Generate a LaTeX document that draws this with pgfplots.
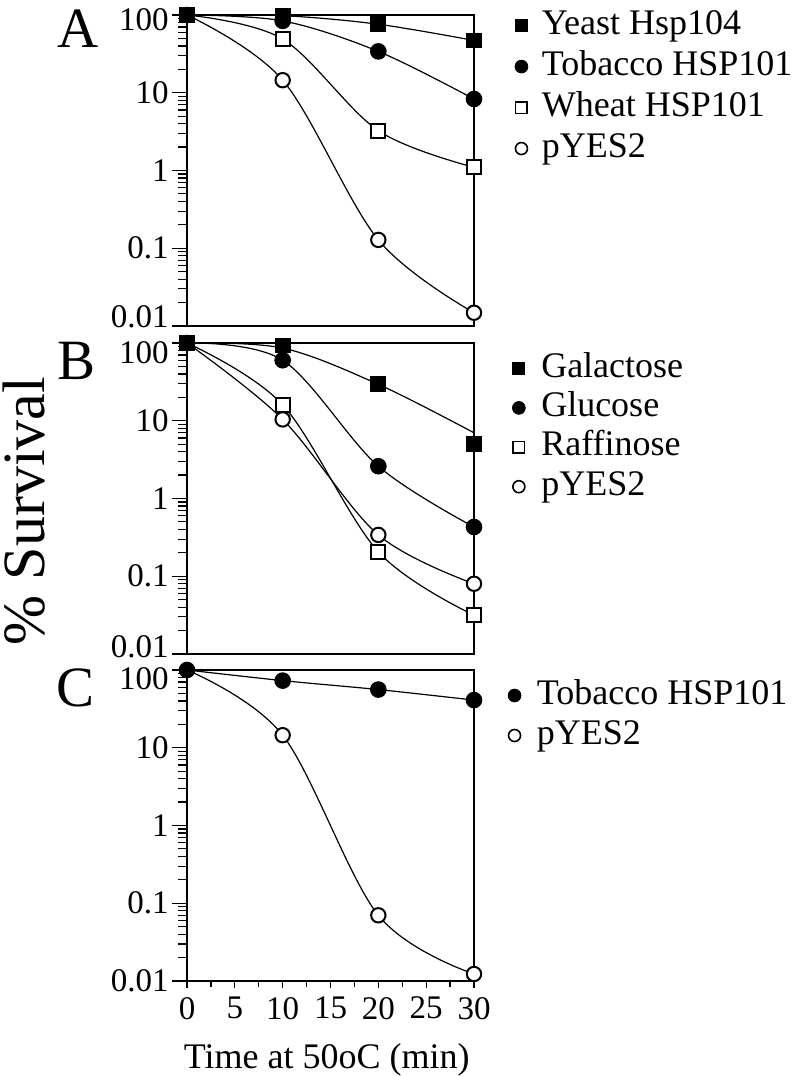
\documentclass[border=0pt]{standalone}
\usepackage{fontspec}
\setmainfont{Liberation Serif}
\usepackage{pgfplots}
\pgfplotsset{compat=1.18}
\tikzset{
  crv/.style={smooth, tension=0.55, line width=0.6pt, black},
  fsq/.style={only marks, mark=square*, mark size=3.7pt, mark options={fill=black, line width=0.5pt}},
  fci/.style={only marks, mark=*, mark size=3.9pt, mark options={fill=black, line width=0.5pt}},
  osq/.style={only marks, mark=square*, mark size=3.5pt, mark options={fill=white, draw=black, line width=1pt}},
  oci/.style={only marks, mark=*, mark size=3.6pt, mark options={fill=white, draw=black, line width=1pt}},
  lfsq/.style={only marks, mark=square*, mark size=3pt, mark options={fill=black, line width=0.4pt}},
  lfci/.style={only marks, mark=*, mark size=3.2pt, mark options={fill=black, line width=0.4pt}},
  losq/.style={only marks, mark=square*, mark size=2.9pt, mark options={fill=white, draw=black, line width=0.8pt}},
  loci/.style={only marks, mark=*, mark size=3pt, mark options={fill=white, draw=black, line width=0.8pt}},
}
\newcommand{\up}[2]{\raisebox{#1}[\height][\depth]{#2}}
\pgfplotsset{
  every axis/.append style={
    scale only axis, width=143.5pt, height=155.5pt,
    xmin=0, xmax=30,
    tick align=outside,
    axis line style={line width=0.8pt},
    every tick/.style={line width=0.6pt, black},
    ticklabel style={font=\fontsize{16.5}{18}\selectfont},
    /pgf/number format/assume math mode=true,
    clip=false,
    legend style={draw=none, fill=none, anchor=north west, inner sep=0pt, outer sep=0pt,
      font=\fontsize{18}{20}\selectfont, legend cell align=left,
      nodes={inner sep=0pt, text height=12.5pt, text depth=4pt}},
  },
}
\begin{document}
\begin{tikzpicture}
\path[use as bounding box] (0,0) rectangle (400pt,538pt);
% ---------------- Panel A
\begin{axis}[at={(93.5pt,375pt)}, anchor=south west, xtick=\empty,
  ymode=log, ymin=0.01, ymax=100,
  ytick={0.01,0.1,1,10,100}, yticklabels={\up{4.5pt}{0.01},0.1,1,10,\up{-2.5pt}{100}}, ytick pos=left,
  major tick length=7.5pt, minor tick length=4.5pt, yticklabel style={inner xsep=1.5pt},
  legend style={at={(axis description cs:1.143,1.019)}, row sep=4pt, column sep=7pt}]
\addplot[crv, forget plot] coordinates {(0,100) (10,98) (20,76) (30,47)};
\addplot[crv, forget plot] coordinates {(0,100) (10,84) (20,34) (30,8.3)};
\addplot[crv, forget plot] coordinates {(0,100) (10,49) (20,3.25) (30,1.1)};
\addplot[crv, forget plot] coordinates {(0,100) (10,14.5) (20,0.128) (30,0.0148)};
\addplot[fci, forget plot] coordinates {(0,100) (10,84) (20,34) (30,8.3)};
\addplot[fsq, forget plot] coordinates {(0,100) (10,98) (20,76) (30,47)};
\addplot[osq, forget plot] coordinates {(10,49) (20,3.25) (30,1.1)};
\addplot[oci, forget plot] coordinates {(10,14.5) (20,0.128) (30,0.0148)};
\addlegendimage{lfsq}\addlegendentry{Yeast Hsp104}
\addlegendimage{lfci}\addlegendentry{Tobacco HSP101}
\addlegendimage{losq}\addlegendentry{Wheat HSP101}
\addlegendimage{loci}\addlegendentry{pYES2}
\node[anchor=base west, inner sep=0pt, font=\fontsize{28.5}{30}\selectfont] at (rel axis cs:-0.452,0.894) {A};
\end{axis}
% ---------------- Panel B
\begin{axis}[at={(93.5pt,211pt)}, anchor=south west, xtick=\empty,
  ymode=log, ymin=0.01, ymax=100,
  ytick={0.01,0.1,1,10,100}, yticklabels={\up{3.5pt}{0.01},0.1,1,10,\up{-5pt}{100}}, ytick pos=left,
  major tick length=7.5pt, minor tick length=4.5pt, yticklabel style={inner xsep=1.5pt},
  legend style={at={(axis description cs:1.134,0.971)}, row sep=3.2pt, column sep=8pt}]
\addplot[crv, forget plot] coordinates {(0,100) (10,86) (20,29.4) (30,7)};
\addplot[crv, forget plot] coordinates {(0,100) (10,60) (20,2.6) (30,0.43)};
\addplot[crv, forget plot] coordinates {(0,100) (10,16) (20,0.206) (30,0.0316)};
\addplot[crv, forget plot] coordinates {(0,100) (10,10.4) (20,0.34) (30,0.08)};
\addplot[osq, forget plot] coordinates {(10,16) (20,0.206) (30,0.0316)};
\addplot[oci, forget plot] coordinates {(10,10.4) (20,0.34) (30,0.08)};
\addplot[fci, forget plot] coordinates {(0,100) (10,60) (20,2.6) (30,0.43)};
\addplot[fsq, forget plot] coordinates {(0,100) (10,93) (20,29.4) (30,5.0)};
\addlegendimage{lfsq}\addlegendentry{Galactose}
\addlegendimage{lfci}\addlegendentry{Glucose}
\addlegendimage{losq}\addlegendentry{Raffinose}
\addlegendimage{loci}\addlegendentry{pYES2}
\node[anchor=base west, inner sep=0pt, font=\fontsize{28.5}{30}\selectfont] at (rel axis cs:-0.452,0.881) {B};
\node[rotate=90, anchor=base, inner sep=0pt, font=\fontsize{30}{32}\selectfont] at (rel axis cs:-0.495,0.46) {\% Survival};
\end{axis}
% ---------------- Panel C
\begin{axis}[at={(93.5pt,47.5pt)}, anchor=south west, xtick=\empty,
  ymode=log, ymin=0.01, ymax=100,
  ytick={0.01,0.1,1,10,100}, yticklabels={0.01,0.1,1,10,\up{-4.5pt}{100}}, ytick pos=left,
  major tick length=7.5pt, minor tick length=4.5pt, yticklabel style={inner xsep=1.5pt},
  legend style={at={(axis description cs:1.119,0.971)}, row sep=3.5pt, column sep=8pt}]
\addplot[crv, forget plot] coordinates {(0,100) (10,73) (20,56) (30,41)};
\addplot[crv, forget plot] coordinates {(0,100) (10,14.5) (20,0.07) (30,0.0123)};
\addplot[oci, forget plot] coordinates {(10,14.5) (20,0.07) (30,0.0123)};
\addplot[fci, forget plot] coordinates {(0,100) (10,73) (20,56) (30,41)};
\addlegendimage{lfci}\addlegendentry{Tobacco HSP101}
\addlegendimage{loci}\addlegendentry{pYES2}
\node[anchor=base west, inner sep=0pt, font=\fontsize{28.5}{30}\selectfont] at (rel axis cs:-0.455,0.884) {C};
\end{axis}
% x ticks of panel C (shorter ticks)
\begin{axis}[at={(93.5pt,47.5pt)}, anchor=south west,
  ymin=0, ymax=1, hide y axis, axis x line*=bottom,
  xtick={0,5,...,30}, minor x tick num=1,
  major tick length=3.5pt, minor tick length=3pt,
  xticklabel style={yshift=-1pt},
  xlabel={Time at 50oC (min)},
  x label style={at={(axis description cs:0.487,-0.281)}, anchor=base, inner sep=0pt,
    font=\fontsize{18}{20}\selectfont}]
\addplot[draw=none, forget plot] coordinates {(0,0) (30,1)};
\end{axis}
\end{tikzpicture}
\end{document}
